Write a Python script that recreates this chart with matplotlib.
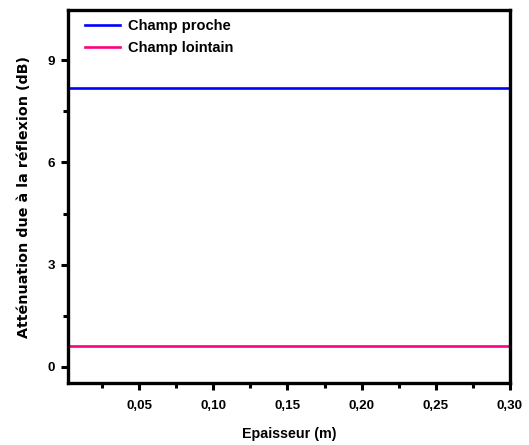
import matplotlib
matplotlib.use("Agg")
import matplotlib.pyplot as plt
from matplotlib.ticker import MultipleLocator, FuncFormatter

plt.rcParams['font.family'] = ['Liberation Sans', 'DejaVu Sans']
plt.rcParams['font.weight'] = 'bold'

# Thickness range (m) and reflection attenuation (dB)
epaisseur = [0.002, 0.30]
champ_proche = [8.18, 8.18]
champ_lointain = [0.62, 0.62]
x_ticks = [0.05, 0.10, 0.15, 0.20, 0.25, 0.30]
y_ticks = [0, 3, 6, 9]

fig = plt.figure(figsize=(5.29, 4.45), dpi=100)
ax = fig.add_axes([0.1285, 0.1393, 0.8355, 0.838])

ax.plot(epaisseur, champ_proche, color='#0000ff', lw=1.9, label='Champ proche')
ax.plot(epaisseur, champ_lointain, color='#ff0080', lw=1.9, label='Champ lointain')

ax.set_xlim(0.002, 0.30)
ax.set_ylim(-0.47, 10.47)
ax.set_xticks(x_ticks)
ax.set_yticks(y_ticks)
ax.xaxis.set_minor_locator(MultipleLocator(0.025))
ax.yaxis.set_minor_locator(MultipleLocator(1.5))
ax.xaxis.set_major_formatter(FuncFormatter(lambda v, p: f"{v:.2f}".replace('.', ',')))

for s in ax.spines.values():
    s.set_linewidth(2.4)
ax.tick_params(axis='both', which='major', direction='out', length=5, width=2.2,
               labelsize=9.6, pad=4.5)
ax.tick_params(axis='x', which='major', pad=7)
ax.tick_params(axis='both', which='minor', direction='out', length=3.3, width=2.2)
for lab in ax.get_xticklabels() + ax.get_yticklabels():
    lab.set_fontweight('bold')

ax.set_xlabel('Epaisseur (m)', fontsize=10.3, fontweight='bold', labelpad=11)
ax.set_ylabel('Atténuation due à la réflexion (dB)', fontsize=10.3,
              fontweight='bold', family=['DejaVu Sans'], labelpad=12)

leg = ax.legend(loc='upper left', frameon=False, fontsize=10.5, handlelength=2.4,
                handletextpad=0.55, borderpad=0, borderaxespad=0,
                labelspacing=0.55, bbox_to_anchor=(0.038, 0.977))
for t in leg.get_texts():
    t.set_fontweight('bold')

fig.savefig('out.png', dpi=100)
